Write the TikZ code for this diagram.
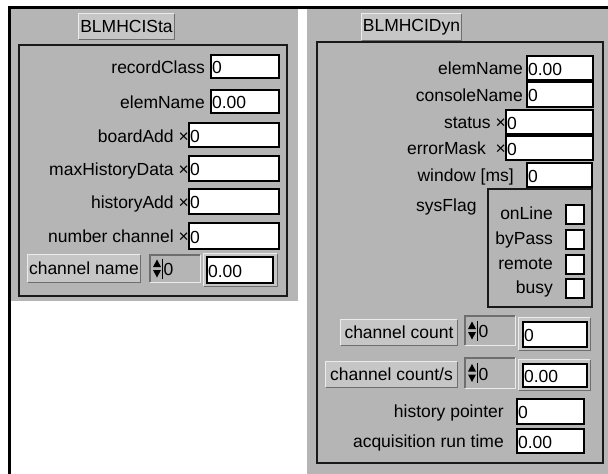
\documentclass[tikz,border=0pt]{standalone}
\usepackage{fontspec}
\setmainfont{Liberation Sans}
\usetikzlibrary{fit}
\definecolor{panelgray}{RGB}{181,181,181}
\definecolor{btngray}{RGB}{198,198,198}
\definecolor{framedark}{RGB}{25,25,25}
\definecolor{shadowgray}{RGB}{110,110,110}
\definecolor{lightedge}{RGB}{235,235,235}
\tikzset{
  panel/.style={fill=panelgray},
  frame/.style={draw=framedark, line width=1.8pt, inner sep=0pt},
  field/.style={draw=black, fill=white, line width=1.3pt, inner sep=0pt},
  btn/.style={fill=btngray, inner sep=0pt},
  spin/.style={fill=panelgray, inner sep=0pt},
  outerval/.style={fill=btngray, inner sep=0pt},
  chk/.style={draw=black, fill=white, line width=1.1pt, inner sep=0pt},
  cluster/.style={draw=framedark, line width=1.5pt, inner sep=0pt},
  lbl/.style={anchor=base east, inner sep=0pt, font=\fontsize{17.5}{20}\selectfont},
  txt/.style={inner sep=0pt, font=\fontsize{17.5}{20}\selectfont},
  val/.style={anchor=west, inner sep=0pt, xshift=1.5pt, yshift=-1pt, font=\fontsize{17.5}{20}\selectfont},
}
% raised edge: light top-left, dark bottom-right
\newcommand{\raisededge}[1]{%
  \draw[lightedge, line width=1.2pt] (#1.south west) |- (#1.north east);
  \draw[shadowgray, line width=1.4pt] (#1.south west) -| (#1.north east);}
% sunken edge: dark top-left, light bottom-right
\newcommand{\sunkenedge}[1]{%
  \draw[shadowgray, line width=1.4pt] (#1.south west) |- (#1.north east);
  \draw[lightedge, line width=1.2pt] (#1.south west) -| (#1.north east);}
% up/down arrows of an index control, left edge x, vertical centre y
\newcommand{\spinicon}[2]{%
  \fill[black] (#1+1,#2-1.5) -- (#1+9,#2-1.5) -- (#1+5,#2-9) -- cycle;
  \fill[black] (#1+1,#2+1.5) -- (#1+9,#2+1.5) -- (#1+5,#2+9) -- cycle;
  \draw[black, line width=0.6pt] (#1+10,#2-10) -- (#1+10,#2+10);}
\begin{document}
\begin{tikzpicture}[x=1pt, y=-1pt]
\useasboundingbox (0,0) rectangle (608,474);
\fill[white] (0,0) rectangle (608,474);

% panels
\fill[panelgray] (11,9) rectangle (298,301);
\fill[panelgray] (307,9) rectangle (608,474);
% outer black border
\fill[black] (8,6) rectangle (608,9);
\fill[black] (8,6) rectangle (11,474);

% ---------- left cluster: BLMHCISta ----------
\node[btn, fit={(79,14) (174,39)}] (tSta) {};
\raisededge{tSta}
\node[txt] at (tSta.center) {BLMHCISta};
\node[frame, fit={(19,45) (287,296)}] (frSta) {};

\node[field, fit={(211,55) (279,78)}] (fRec) {};
\node[val] at (fRec.west) {0};
\node[lbl] (lRec) at (205,73) {recordClass};

\node[field, fit={(211,90) (279,113)}] (fElemS) {};
\node[val] at (fElemS.west) {0.00};
\node[lbl] (lElemS) at (205,108) {elemName};

\node[field, fit={(189,123) (279,147)}] (fBoard) {};
\node[val] at (fBoard.west) {0};
\node[lbl] (lBoard) at (189,142) {boardAdd ×};

\node[field, fit={(189,156) (279,181)}] (fMaxH) {};
\node[val] at (fMaxH.west) {0};
\node[lbl] (lMaxH) at (189,175) {maxHistoryData ×};

\node[field, fit={(189,189) (279,214)}] (fHist) {};
\node[val] at (fHist.west) {0};
\node[lbl] (lHist) at (189,208) {historyAdd ×};

\node[field, fit={(189,223) (279,249)}] (fNum) {};
\node[val] at (fNum.west) {0};
\node[lbl] (lNum) at (189,242) {number channel ×};

\node[btn, fit={(28,255) (140,282)}] (bChName) {};
\raisededge{bChName}
\node[txt] at (bChName.center) {channel name};
\node[spin, fit={(150,255) (200,282)}] (sChName) {};
\sunkenedge{sChName}
\spinicon{152}{268.5}
\node[val, xshift=12pt] at (sChName.west) {0};
\node[outerval, fit={(204,254) (277,286)}] (oChName) {};
\raisededge{oChName}
\node[field, fit={(207,257) (273,283)}] (fChName) {};
\node[val] at (fChName.west) {0.00};

% ---------- right cluster: BLMHCIDyn ----------
\node[btn, fit={(362,14) (461,40)}] (tDyn) {};
\raisededge{tDyn}
\node[txt] at (tDyn.center) {BLMHCIDyn};
\node[frame, fit={(317,42) (603,463)}] (frDyn) {};

\node[field, fit={(527,56) (593,80)}] (fElemD) {};
\node[val] at (fElemD.west) {0.00};
\node[lbl] (lElemD) at (523,74.5) {elemName};

\node[field, fit={(527,82) (593,107)}] (fCons) {};
\node[val] at (fCons.west) {0};
\node[lbl] (lCons) at (523,101) {consoleName};

\node[field, fit={(506,110) (593,134)}] (fStat) {};
\node[val] at (fStat.west) {0};
\node[lbl] (lStat) at (506,128.5) {status ×};

\node[field, fit={(506,136) (593,160)}] (fErr) {};
\node[val] at (fErr.west) {0};
\node[lbl] (lErr) at (506,154.5) {errorMask\ \ ×};

\node[field, fit={(527,163) (592,187)}] (fWin) {};
\node[val] at (fWin.west) {0};
\node[lbl] (lWin) at (514,181.5) {window [ms]};

\node[lbl, anchor=base west] (lSys) at (416,211) {sysFlag};
\node[cluster, fit={(488,189) (592,307)}] (cSys) {};
\node[chk, fit={(566,205) (584,224)}] (kOn) {};
\node[lbl] (lOn) at (553,219) {onLine};
\node[chk, fit={(566,230) (584,249)}] (kBy) {};
\node[lbl] (lBy) at (553,244) {byPass};
\node[chk, fit={(566,255) (584,274)}] (kRem) {};
\node[lbl] (lRem) at (553,269) {remote};
\node[chk, fit={(566,279) (584,298)}] (kBusy) {};
\node[lbl] (lBusy) at (553,293) {busy};

\node[btn, fit={(341,320) (457,345)}] (bCnt) {};
\raisededge{bCnt}
\node[txt] at (bCnt.center) {channel count};
\node[spin, fit={(465,316) (515,345)}] (sCnt) {};
\sunkenedge{sCnt}
\spinicon{467}{330.5}
\node[val, xshift=12pt] at (sCnt.west) {0};
\node[outerval, fit={(519,318) (590,350)}] (oCnt) {};
\raisededge{oCnt}
\node[field, fit={(523,322) (587,347)}] (fCnt) {};
\node[val] at (fCnt.west) {0};

\node[btn, fit={(326,362) (457,387)}] (bCntS) {};
\raisededge{bCntS}
\node[txt] at (bCntS.center) {channel count/s};
\node[spin, fit={(465,358) (515,388)}] (sCntS) {};
\sunkenedge{sCntS}
\spinicon{467}{373}
\node[val, xshift=12pt] at (sCntS.west) {0};
\node[outerval, fit={(519,360) (590,390)}] (oCntS) {};
\raisededge{oCntS}
\node[field, fit={(523,364) (587,387)}] (fCntS) {};
\node[val] at (fCntS.west) {0.00};

\node[field, fit={(517,399) (584,424)}] (fHP) {};
\node[val] at (fHP.west) {0};
\node[lbl] (lHP) at (504,417.5) {history pointer};

\node[field, fit={(517,429) (584,453)}] (fAcq) {};
\node[val] at (fAcq.west) {0.00};
\node[lbl] (lAcq) at (504,447.5) {acquisition run time};
\end{tikzpicture}
\end{document}
